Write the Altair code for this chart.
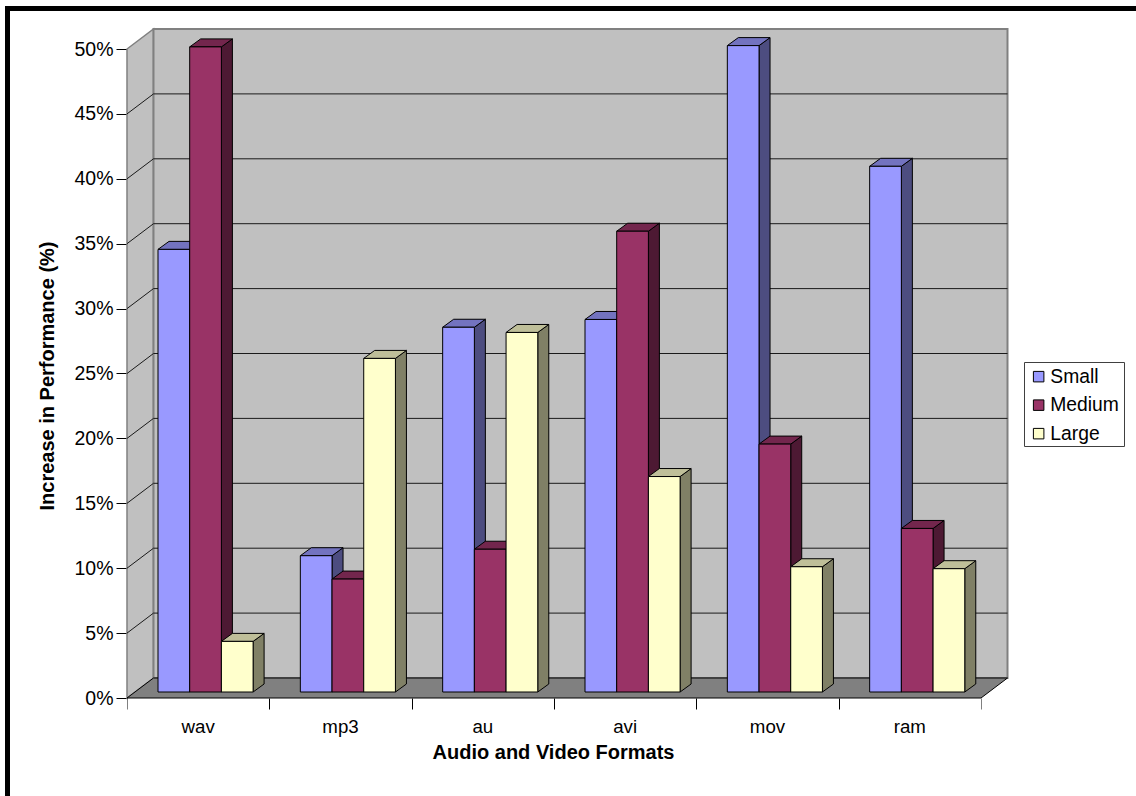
import altair as alt
import pandas as pd

# Percent gain per media format and file size
categories = ["wav", "mp3", "au", "avi", "mov", "ram"]
sizes = ["Small", "Medium", "Large"]
small = [34.1, 10.5, 28.1, 28.7, 49.8, 40.5]
medium = [49.7, 8.7, 11.0, 35.5, 19.1, 12.6]
large = [3.9, 25.7, 27.7, 16.6, 9.65, 9.5]
grid_levels = [5, 10, 15, 20, 25, 30, 35, 40, 45]
y_ticks = [0] + grid_levels + [50]

front_colors = ["#9999FF", "#993366", "#FFFFCC"]
top_colors = ["#7373BF", "#73264D", "#BFBF99"]
side_colors = ["#4D4D80", "#4D1933", "#808066"]

FONT = "Liberation Sans"
TITLE_SIZE = 20
TICK_SIZE = 19.5
CATEGORY_SIZE = 18.7
LEGEND_SIZE = 19.3
PX_X = 854 / 6      # pixels per category
PX_Y = 649 / 50     # pixels per percentage point

# Oblique projection, given in data units
wall_dx, wall_dy = 26.5 / PX_X, 20 / PX_Y
bar_dx, bar_dy = 11 / PX_X, 8 / PX_Y
bar_base = 6 / PX_Y
bar_start, bar_width = 31 / PX_X, 31.7 / PX_X

x_scale = alt.Scale(domain=[0, 6 + wall_dx], nice=False, zero=False)
y_scale = alt.Scale(domain=[0, 50 + wall_dy], nice=False, zero=False)

x_axis = alt.Axis(
    values=list(range(7)), labels=False, grid=False, domain=False, tickSize=11, tickWidth=1,
    tickColor=alt.expr("datum.value == 0 || datum.value == 6 ? '#808080' : '#000000'"),
    title="Audio and Video Formats", titleFont=FONT, titleFontSize=TITLE_SIZE, titleFontWeight="bold",
    titleColor="#000000", titleX=426, titleY=54, titleBaseline="middle", titleAnchor="middle", titleAlign="center")
y_axis = alt.Axis(
    values=y_ticks, labelExpr="datum.value + '%'", grid=False, domain=False, tickSize=11, tickWidth=1,
    tickColor="#000000", labelFont=FONT, labelFontSize=TICK_SIZE, labelColor="#000000", labelPadding=3,
    title="Increase in Performance (%)", titleFont=FONT, titleFontSize=TITLE_SIZE, titleFontWeight="bold",
    titleColor="#000000", titleX=-80, titleY=346.5, titleBaseline="middle", titleAnchor="middle", titleAlign="center")

X = lambda f: alt.X(f, type="quantitative", scale=x_scale, axis=x_axis)
Y = lambda f: alt.Y(f, type="quantitative", scale=y_scale, axis=y_axis)

rows = []
for c, name in enumerate(categories):
    for s, (label, series) in enumerate(zip(sizes, [small, medium, large])):
        left = c + bar_start + s * bar_width
        rows.append(dict(bar=f"{name}-{label}", size=label, x0=left, x1=left + bar_width,
                         low=bar_base, high=series[c] + bar_base))
bars = pd.DataFrame(rows)

side = pd.concat([
    bars.assign(px=bars.x1, py=bars.high, py2=bars.low),
    bars.assign(px=bars.x1 + bar_dx, py=bars.high + bar_dy, py2=bars.low + bar_dy),
])
top = pd.concat([
    bars.assign(py=bars.high, px=bars.x0, px2=bars.x1),
    bars.assign(py=bars.high + bar_dy, px=bars.x0 + bar_dx, px2=bars.x1 + bar_dx),
])

color = lambda palette: alt.Color("size:N", scale=alt.Scale(domain=sizes, range=palette), legend=None)

# Walls and floor
left_wall = alt.Chart(pd.DataFrame({"px": [0, wall_dx], "py": [50, 50 + wall_dy], "py2": [0, wall_dy]})).mark_area(
    fill="#C0C0C0", stroke="#808080", strokeWidth=1.5).encode(x=X("px"), y=Y("py"), y2="py2")
back_wall = alt.Chart(pd.DataFrame({"px": [wall_dx], "px2": [6 + wall_dx], "py": [wall_dy], "py2": [50 + wall_dy]})).mark_rect(
    fill="#C0C0C0", stroke="#808080", strokeWidth=2).encode(x=X("px"), x2="px2", y=Y("py"), y2="py2")
floor = alt.Chart(pd.DataFrame({"py": [0, wall_dy], "px": [0, wall_dx], "px2": [6, 6 + wall_dx]})).mark_area(
    orient="horizontal", fill="#808080").encode(y=Y("py"), x=X("px"), x2="px2")

grid_rows = []
for level in grid_levels:
    grid_rows += [dict(level=level, step=0, px=0, py=level),
                  dict(level=level, step=1, px=wall_dx, py=level + wall_dy),
                  dict(level=level, step=2, px=6 + wall_dx, py=level + wall_dy)]
grid = alt.Chart(pd.DataFrame(grid_rows)).mark_line(color="#1A1A1A", strokeWidth=1).encode(
    x=X("px"), y=Y("py"), detail="level:N", order="step:Q")

floor_back = alt.Chart(pd.DataFrame({"px": [wall_dx, 6 + wall_dx], "py": [wall_dy, wall_dy]})).mark_line(
    color="#404040", strokeWidth=2).encode(x=X("px"), y=Y("py"))
floor_edge = alt.Chart(pd.DataFrame({"step": [0, 1, 2, 3], "px": [wall_dx, 0, 6, 6 + wall_dx], "py": [wall_dy, 0, 0, wall_dy]})).mark_line(
    color="#000000", strokeWidth=1).encode(x=X("px"), y=Y("py"), order="step:Q")

# Bar faces, back to front
side_faces = alt.Chart(side).mark_area(stroke="#000000", strokeWidth=1).encode(
    x=X("px"), y=Y("py"), y2="py2", detail="bar:N", color=color(side_colors))
top_faces = alt.Chart(top).mark_area(orient="horizontal", stroke="#000000", strokeWidth=1).encode(
    y=Y("py"), x=X("px"), x2="px2", detail="bar:N", color=color(top_colors))
front_faces = alt.Chart(bars).mark_rect(stroke="#000000", strokeWidth=1).encode(
    x=X("x0"), x2="x1", y=Y("low"), y2="high",
    color=alt.Color("size:N", scale=alt.Scale(domain=sizes, range=front_colors), legend=alt.Legend(
        title=None, orient="none", legendX=897, legendY=333, padding=5, symbolType="square", symbolSize=110,
        symbolStrokeColor="#000000", symbolStrokeWidth=1, symbolOpacity=1, labelFont=FONT,
        labelFontSize=LEGEND_SIZE, labelColor="#000000", labelOffset=2, rowPadding=8.5, labelLimit=200)),
)

category_labels = alt.Chart(pd.DataFrame({"name": categories, "px": [i + 0.5 for i in range(6)], "py": [0] * 6})).mark_text(
    font=FONT, fontSize=CATEGORY_SIZE, color="#000000", dy=29, baseline="middle", align="center").encode(
    x=X("px"), y=Y("py"), text="name:N")

# Box around the legend entries
legend_box = alt.Chart(pd.DataFrame({"a": [0]})).mark_rect(fillOpacity=0, stroke="#404040", strokeWidth=1).encode(
    x=alt.value(897.5), x2=alt.value(997.5), y=alt.value(333.5), y2=alt.value(417.5))

# Heavy rules along the top and left of the page
frame_top = alt.Chart(pd.DataFrame({"a": [0]})).mark_rule(color="#000000", strokeWidth=5).encode(
    x=alt.value(-122), x2=alt.value(1009), y=alt.value(-20.5))
frame_left = alt.Chart(pd.DataFrame({"a": [0]})).mark_rule(color="#000000", strokeWidth=5).encode(
    x=alt.value(-119.5), y=alt.value(-23), y2=alt.value(767))

chart = alt.layer(
    frame_top, frame_left, left_wall, back_wall, floor, grid, floor_back, floor_edge,
    side_faces, top_faces, front_faces, category_labels, legend_box,
).resolve_scale(color="independent").properties(
    width=880.5, height=669,
    padding={"left": 127, "top": 29, "right": 128.5, "bottom": 98},
    autosize=alt.AutoSizeParams(type="none"),
    background="#FFFFFF",
).configure_view(stroke=None)

chart.save("out.html", embed_options={"renderer": "svg", "actions": False})
